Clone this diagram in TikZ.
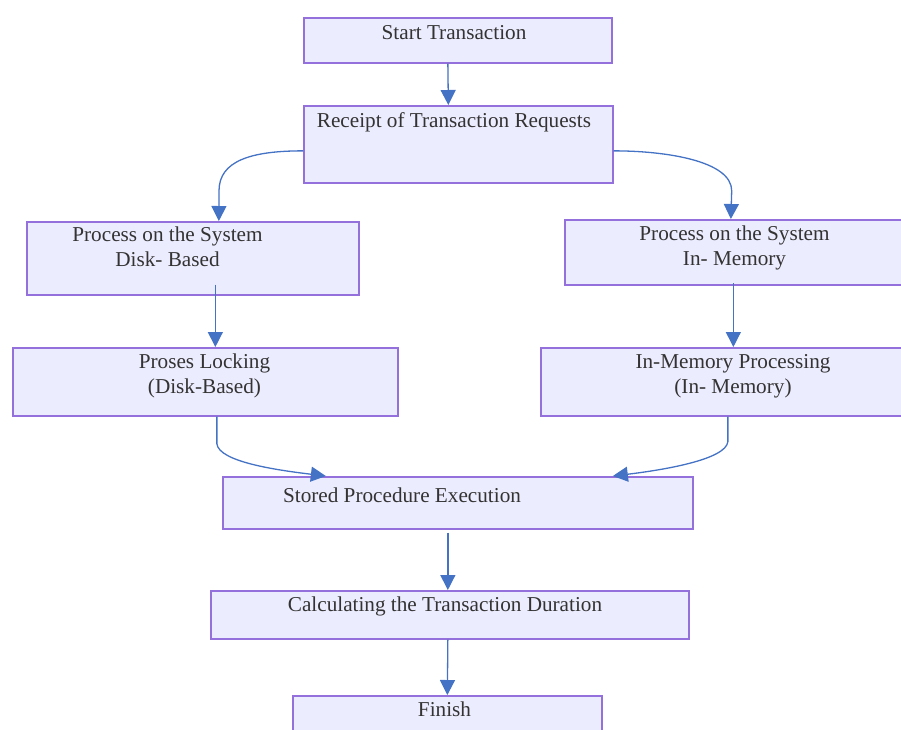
\documentclass[tikz,border=0pt]{standalone}
\usepackage{fontspec}
\setmainfont{Liberation Serif}
\usetikzlibrary{arrows.meta,positioning}
\definecolor{boxfill}{HTML}{ECECFF}
\definecolor{boxline}{HTML}{9370DB}
\definecolor{flowcol}{HTML}{4472C4}
\definecolor{txtcol}{HTML}{333333}

\begin{document}
\begin{tikzpicture}[x=1pt,y=-1pt,>={Triangle[length=15pt,width=15pt]},
  box/.style={draw=boxline,fill=boxfill,line width=1.7pt,rectangle,inner sep=0pt,anchor=north west},
  txt/.style={text=txtcol,font=\fontsize{21.2}{24.5}\selectfont,align=center,inner sep=0pt,anchor=base},
  flow/.style={->,draw=flowcol,line width=1.3pt}]
\useasboundingbox (0,0) rectangle (901,729);

\node[box,minimum width=308pt,minimum height=45pt] (start) at (303,17) {};
\node[box,minimum width=309pt,minimum height=77pt] (recv) at (303,105) {};
\node[box,minimum width=332pt,minimum height=73pt] (disk) at (26,221) {};
\node[box,minimum width=345pt,minimum height=65pt] (mem) at (564,219) {};
\node[box,minimum width=385pt,minimum height=68pt] (lock) at (12,347) {};
\node[box,minimum width=370pt,minimum height=68pt] (memproc) at (540,347) {};
\node[box,minimum width=470pt,minimum height=52pt] (stored) at (222,476) {};
\node[box,minimum width=478pt,minimum height=48pt] (calc) at (210,590) {};
\node[box,minimum width=309pt,minimum height=50pt] (finish) at (292,695) {};

\node[txt] (start-t) at (454,39) {Start Transaction};
\node[txt] (recv-t) at (454,127) {Receipt of Transaction Requests};
\node[txt] (disk-t) at (167.5,266) {Process on the System\\Disk- Based};
\node[txt] (mem-t) at (734.5,265) {Process on the System\\In- Memory};
\node[txt] (lock-t) at (204.5,393) {Proses Locking\\(Disk-Based)};
\node[txt] (memproc-t) at (733,393) {In-Memory Processing\\(In- Memory)};
\node[txt] (stored-t) at (402,502) {Stored Procedure Execution};
\node[txt] (calc-t) at (445,611) {Calculating the Transaction Duration};
\node[txt] (finish-t) at (444.5,716) {Finish};

\path[every edge/.style={flow}]
     ([xshift=-10pt]start.south) edge ([xshift=-10pt]recv.north)
     ([xshift=22.5pt,yshift=11pt]disk.south) edge ([xshift=10pt]lock.north)
     ([xshift=-4pt,yshift=2.5pt]mem.south) edge ([xshift=7.5pt]memproc.north)
     ([xshift=-10pt,yshift=-3pt]stored.south) edge ([xshift=-2pt]calc.north)
     ([xshift=-2pt]calc.south) edge (finish.north)
     ;

\draw[flow] ([yshift=-6.5pt]recv.west) .. controls +(-52,0) and +(0,-30) .. ++(-84,40)
  -- ([xshift=26pt]disk.north);
\draw[flow] ([yshift=-6.5pt]recv.east) .. controls +(52,0) and +(0,-30) .. ++(118,40)
  -- ([xshift=-6.5pt]mem.north);
\draw[flow] ([xshift=11.5pt]lock.south) -- ++(0,27)
  .. controls +(2,18) and +(-50,-6) .. ([xshift=-132pt]stored.north);
\draw[flow] ([xshift=2pt]memproc.south) -- ++(0,25)
  .. controls +(-2,18) and +(50,-6) .. ([xshift=155pt]stored.north);
\end{tikzpicture}
\end{document}
